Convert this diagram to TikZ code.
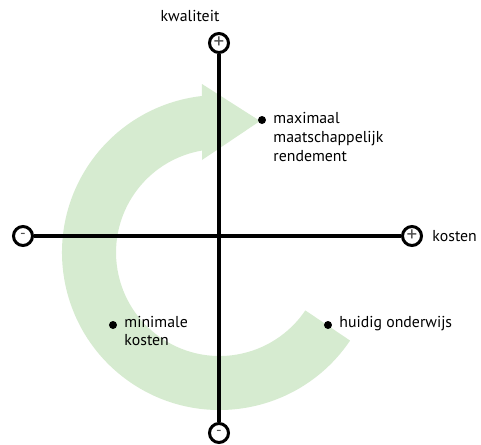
\documentclass[tikz,border=0pt]{standalone}
\usepackage{fontspec}
\setmainfont{PT Sans}
\definecolor{arcgreen}{RGB}{214,235,208}
\definecolor{signgray}{RGB}{80,80,80}
\begin{document}
\begin{tikzpicture}[x=0.02cm, y=0.02cm, every node/.style={draw,circle,line width=1.7pt, fill=white, inner sep=0pt, minimum size=0.38cm, font=\fontsize{9}{10.8}\selectfont}]
	\useasboundingbox (-219,-208) rectangle (262,236);
	
	% green arrow
	\fill[arcgreen] (0.5,-16.5) ++(-34:157.5) arc[start angle=-34, end angle=-263.6, radius=157.5]
		-- (-17,152) -- (41,115) -- (-17,76) -- (-16.9,85.5)
		arc[start angle=99.7, end angle=326, radius=103.5] -- cycle;
	
	\node[font=\fontsize{12}{12}\selectfont] (1) at (0,193) {\color{signgray}+};
	\node (2) at (0,-197) {\color{signgray}-};
	\node (3) at (-196,0) {\color{signgray}-};
	\node[font=\fontsize{12}{12}\selectfont] (4) at (193,0) {\color{signgray}+};
	
	\path[line width=2.5pt] (1) edge (2);
	\path[line width=2.5pt] (3) edge (4);
	
	\node[draw=none, fill=black, minimum size=0.16cm] (5) at (43,116) {};
	\node[draw=none, fill=black, minimum size=0.16cm] (6) at (-106,-89) {};
	\node[draw=none, fill=black, minimum size=0.16cm] (7) at (109,-89) {};
	
	\node[draw=none, fill=none, rectangle] (kwaliteit) at (-29,220) {kwaliteit};
	\node[draw=none, fill=none, rectangle, anchor=west] (kosten) at (212,0) {kosten};
	\node[draw=none, fill=none, rectangle, anchor=west, align=left] (maximaal) at (53,99) {maximaal\\maatschappelijk\\rendement};
	\node[draw=none, fill=none, rectangle, anchor=west, align=left] (minimale) at (-96,-95) {minimale\\kosten};
	\node[draw=none, fill=none, rectangle, anchor=west] (huidig) at (119,-88) {huidig onderwijs};
	
\end{tikzpicture}
\end{document}
